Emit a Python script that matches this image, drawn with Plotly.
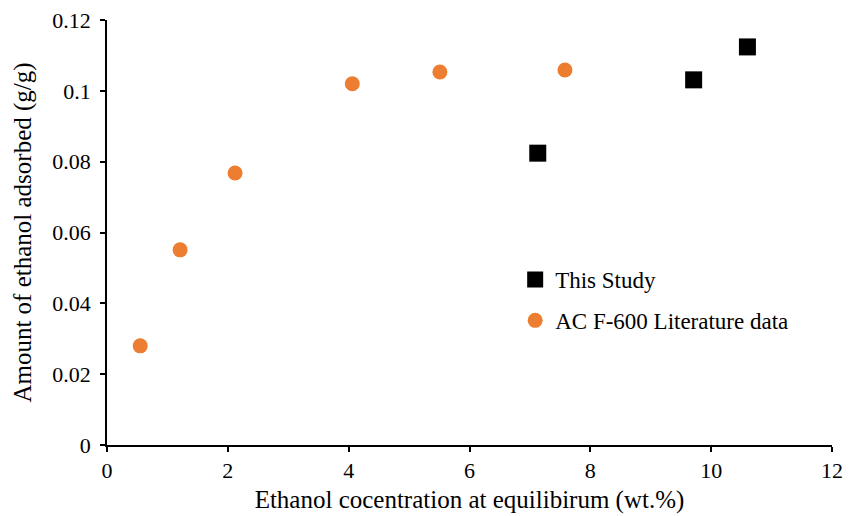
import plotly.graph_objects as go

study_x = [7.13, 9.71, 10.60]
study_y = [0.0824, 0.1031, 0.1124]
lit_x = [0.55, 1.21, 2.12, 4.06, 5.51, 7.58]
lit_y = [0.0280, 0.0551, 0.0768, 0.1020, 0.1053, 0.1059]

x_ticks = [0, 2, 4, 6, 8, 10, 12]
y_ticks = [0, 0.02, 0.04, 0.06, 0.08, 0.1, 0.12]
y_tick_labels = ["0", "0.02", "0.04", "0.06", "0.08", "0.1", "0.12"]

font = "Liberation Serif, Times New Roman, serif"

fig = go.Figure()
fig.add_trace(go.Scatter(x=study_x, y=study_y, mode="markers", name="This Study",
                         legendgroup="a",
                         marker=dict(symbol="square", size=17, color="#000000")))
fig.add_trace(go.Scatter(x=lit_x, y=lit_y, mode="markers", name="AC F-600 Literature data",
                         legendgroup="b",
                         marker=dict(symbol="circle", size=15, color="#ED7D31")))

axis_common = dict(showline=True, linecolor="#000000", linewidth=1.5, ticks="outside",
                   ticklen=5, tickcolor="#000000", tickwidth=1.5, showgrid=False,
                   zeroline=False,
                   tickfont=dict(family=font, size=22, color="#000000"))

fig.update_layout(
    width=856, height=516,
    margin=dict(l=107, r=24, t=20, b=71),
    paper_bgcolor="white", plot_bgcolor="white",
    font=dict(family=font, color="#000000"),
    xaxis=dict(range=[0, 12], tickvals=x_ticks, automargin=False,
               title=dict(text="Ethanol cocentration at equilibirum (wt.%)",
                          font=dict(family=font, size=25), standoff=8),
               **axis_common),
    yaxis=dict(range=[0, 0.12], tickvals=y_ticks, ticktext=y_tick_labels,
               automargin="left", ticklabelstandoff=5,
               title=dict(text="Amount of ethanol adsorbed (g/g)",
                          font=dict(family=font, size=25), standoff=14),
               **axis_common),
    legend=dict(x=0.563, y=0.44, xanchor="left", yanchor="top",
                bgcolor="rgba(0,0,0,0)", itemwidth=30, tracegroupgap=8,
                font=dict(family=font, size=23, color="#000000")),
    showlegend=True,
)

fig.write_html("out.html")
